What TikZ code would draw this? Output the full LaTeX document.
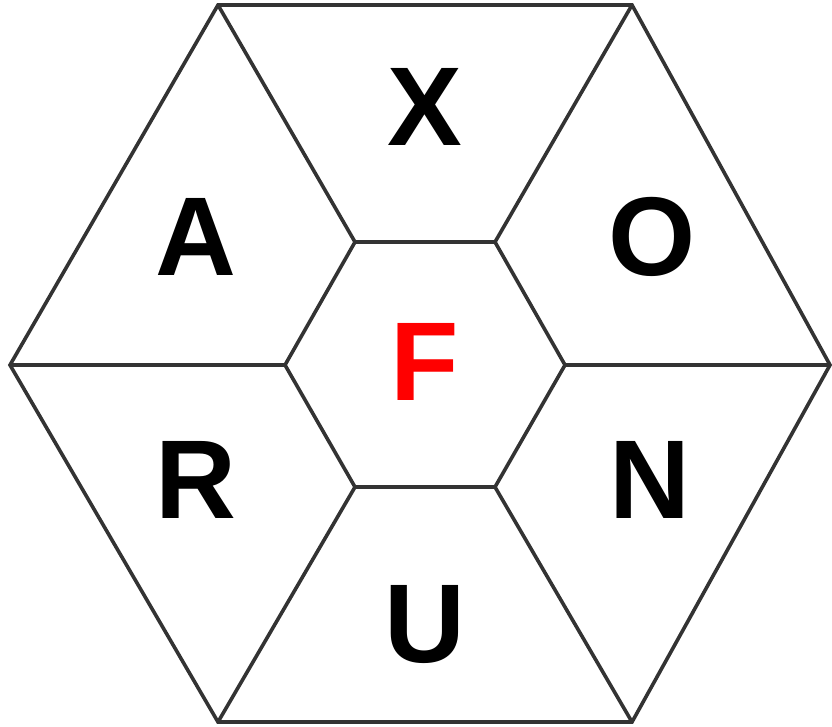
\documentclass[tikz,border=0pt]{standalone}
\usepackage{fontspec}
\setmainfont{Liberation Sans}
\usepackage{tikz}
\usetikzlibrary{positioning}
\definecolor{edge}{HTML}{333333}
\tikzset{
  cell/.style={draw=edge, line width=3.6pt, line join=miter},
  letter/.style={font=\fontsize{112}{112}\selectfont\bfseries, inner sep=0pt}
}
\begin{document}
\begin{tikzpicture}[x=1pt, y=-1pt]
  \useasboundingbox (0,0) rectangle (832,726);
  % outer and inner corners
  \foreach \n/\ox/\oy/\ix/\iy in {1/218/5/355/242, 2/632/5/495/242, 3/830/365/565/365,
                                 4/632/722/495/487, 5/218/722/355/487, 6/10/365/285/365}{
    \coordinate (o\n) at (\ox,\oy);
    \coordinate (i\n) at (\ix,\iy);
  }
  \draw[cell] (o1) -- (o2) -- (o3) -- (o4) -- (o5) -- (o6) -- cycle;
  \draw[cell] (i1) -- (i2) -- (i3) -- (i4) -- (i5) -- (i6) -- cycle;
  % spokes
  \foreach \n in {1,...,6}{ \draw[cell] (i\n) -- (o\n); }
  % letters
  \node[letter] (x) at (425,107) {X};
  \node[letter] (o) at (652,237) {O};
  \node[letter] (n) at (650,480) {N};
  \node[letter] (u) at (425,625) {U};
  \node[letter] (r) at (196,480) {R};
  \node[letter] (a) at (196,237) {A};
  \node[letter, text=red] (f) at (425,362) {F};
\end{tikzpicture}
\end{document}
